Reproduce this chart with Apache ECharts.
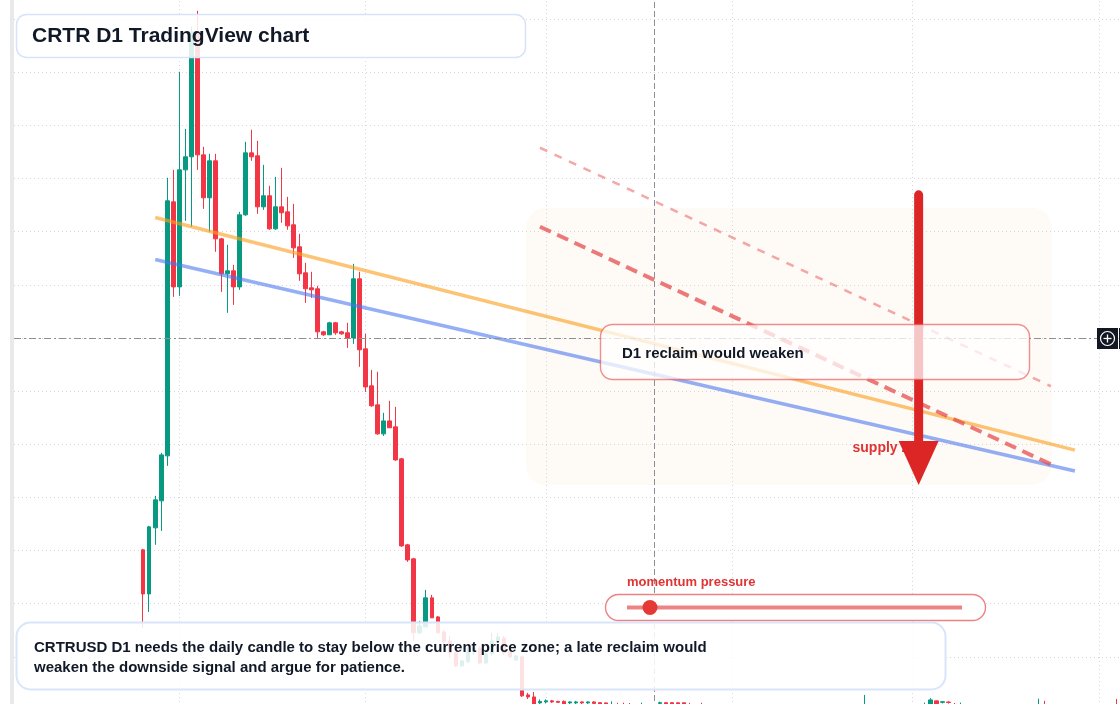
<!DOCTYPE html>
<html><head><meta charset="utf-8">
<script src="https://cdn.jsdelivr.net/npm/echarts@6/dist/echarts.min.js"></script>
<style>html,body{margin:0;padding:0;background:#fff;overflow:hidden;width:1120px;height:704px;}
#wrap{position:relative;width:1120px;height:704px;overflow:hidden;}
#c{position:absolute;left:0;top:-34px;width:1120px;height:744px;}</style>
</head><body><div id="wrap"><div id="c"></div></div>
<script>
// ---------- DATA ----------
const startYear = 2025, startMonth = 6, startDay = 5;   // 2025-07-05
const dayCount = 184;
const firstCandle = 21;                                  // first traded day index (2025-07-26)

// daily OHLC (USD), from 2025-07-26 onward
const openP = [
 .1507,.1092,.1714,.1968,.2391,.4781,.3981,.5082,.5205,.6381,
 .5223,.4819,.5167,.4433,.4104,.4132,.3981,.4659,.5242,.5214,
 .4734,.4838,.4527,.4734,.4687,.4565,.4358,.4113,.3972,.3963,
 .3558,.3530,.3643,.3558,.3549,.3501,.4057,.3398,.3050,.2871,
 .2598,.2720,.2664,.2363,.1554,.1422,.0726,.0782,.1055,.0876,
 .0735,.0650,.0537,.0415,.0453,.0547,.0584,.0443,.0528,.0650,
 .0678,.0547,.0471,.0500,.0142,.0123,.0067,.0076,.0086,.0081,
 .0081,.0067,.0067,.0076,.0067,.0076,.0069,.0067,.0045,.0050,
 .0044,.0040,.0037,.0041,.0045,.0041,.0062,.0069,.0069,.0068,
 .0068,.0049,.0043,.0046,.0034,.0041,.0037,.0044,.0039,.0035,
 .0031,.0036,.0033,.0029,.0034,.0038,.0032,.0028,.0031,.0027,
 .0030,.0034,.0029,.0026,.0030,.0033,.0028,.0032,.0035,.0031,
 .0036,.0045,.0039,.0035,.0040,.0036,.0033,.0038,.0042,.0046,
 .0043,.0050,.0086,.0072,.0075,.0052,.0046,.0050,.0044,.0041,
 .0046,.0042,.0038,.0043,.0040,.0036,.0041,.0045,.0042,.0047,
 .0052,.0046,.0043,.0039,.0044,.0040,.0037,.0042,.0038,.0035,
 .0040,.0044,.0041];
const closeP = [
 .1092,.1723,.1977,.2400,.4791,.3981,.5082,.5205,.6381,.5223,
 .4819,.5167,.4433,.4104,.4132,.3981,.4659,.5242,.5205,.4734,
 .4838,.4527,.4734,.4678,.4555,.4348,.4104,.3963,.3953,.3558,
 .3530,.3643,.3549,.3539,.3501,.4057,.3389,.3040,.2862,.2598,
 .2720,.2655,.2353,.1544,.1412,.0726,.0791,.1055,.0867,.0726,
 .0641,.0537,.0415,.0462,.0547,.0584,.0443,.0528,.0650,.0688,
 .0537,.0500,.0509,.0133,.0123,.0039,.0081,.0086,.0076,.0072,
 .0039,.0076,.0076,.0067,.0076,.0062,.0052,.0048,.0050,.0044,
 .0040,.0037,.0041,.0045,.0041,.0046,.0069,.0053,.0052,.0050,
 .0049,.0043,.0046,.0034,.0041,.0037,.0044,.0039,.0035,.0031,
 .0036,.0033,.0029,.0034,.0038,.0032,.0028,.0031,.0027,.0030,
 .0034,.0029,.0026,.0030,.0033,.0028,.0032,.0035,.0031,.0036,
 .0045,.0039,.0035,.0040,.0036,.0033,.0038,.0042,.0046,.0043,
 .0050,.0095,.0045,.0078,.0071,.0046,.0050,.0044,.0041,.0046,
 .0042,.0038,.0043,.0040,.0036,.0041,.0045,.0042,.0047,.0052,
 .0046,.0043,.0039,.0044,.0040,.0037,.0042,.0038,.0035,.0040,
 .0044,.0041,.0037];
const lowP = [
 .0773,.0923,.1554,.1685,.2297,.3887,.3897,.4602,.4546,.5082,
 .4715,.4499,.4311,.3934,.3737,.3812,.3953,.4649,.5167,.4668,
 .4706,.4518,.4518,.4584,.4518,.4254,.4038,.3831,.3878,.3501,
 .3520,.3530,.3530,.3530,.3407,.3445,.3229,.2993,.2852,.2589,
 .2579,.2655,.2344,.1535,.1394,.0650,.0716,.0782,.0867,.0716,
 .0613,.0490,.0405,.0405,.0443,.0518,.0434,.0434,.0509,.0631,
 .0518,.0490,.0462,.0123,.0104,.0020,.0057,.0062,.0067,.0067,
 .0029,.0057,.0053,.0048,.0057,.0048,.0043,.0039,.0036,.0035,
 .0032,.0030,.0031,.0034,.0035,.0036,.0050,.0046,.0045,.0043,
 .0042,.0036,.0037,.0029,.0027,.0031,.0032,.0033,.0028,.0026,
 .0027,.0028,.0024,.0025,.0030,.0027,.0023,.0024,.0022,.0023,
 .0026,.0025,.0021,.0022,.0025,.0024,.0023,.0027,.0026,.0027,
 .0030,.0033,.0029,.0030,.0031,.0027,.0028,.0032,.0036,.0037,
 .0038,.0044,.0040,.0062,.0060,.0040,.0041,.0038,.0035,.0036,
 .0037,.0033,.0034,.0035,.0031,.0032,.0036,.0037,.0038,.0041,
 .0040,.0037,.0034,.0035,.0035,.0032,.0033,.0034,.0030,.0031,
 .0035,.0036,.0032];
const highP = [
 .1516,.1732,.2015,.2419,.5007,.5082,.6005,.5468,.6428,.6579,
 .5299,.5233,.5233,.4442,.4377,.4188,.4687,.5346,.5459,.5355,
 .5129,.4932,.5016,.5101,.4828,.4762,.4480,.4207,.4123,.3991,
 .3567,.3652,.3652,.3567,.3643,.4198,.4123,.3539,.3200,.3182,
 .2796,.2909,.2852,.2372,.1563,.1431,.0838,.1130,.1083,.0885,
 .0754,.0697,.0547,.0471,.0594,.0613,.0603,.0566,.0726,.0726,
 .0697,.0566,.0518,.0509,.0161,.0170,.0100,.0100,.0095,.0086,
 .0090,.0081,.0086,.0081,.0081,.0081,.0072,.0069,.0081,.0067,
 .0069,.0066,.0052,.0069,.0053,.0055,.0079,.0071,.0070,.0070,
 .0069,.0067,.0052,.0068,.0049,.0046,.0051,.0050,.0045,.0042,
 .0043,.0041,.0038,.0040,.0047,.0044,.0037,.0039,.0036,.0038,
 .0042,.0040,.0035,.0037,.0041,.0039,.0040,.0044,.0043,.0046,
 .0142,.0052,.0047,.0049,.0048,.0044,.0046,.0053,.0055,.0054,
 .0069,.0111,.0088,.0083,.0080,.0066,.0069,.0055,.0050,.0053,
 .0052,.0047,.0050,.0049,.0046,.0048,.0053,.0051,.0055,.0107,
 .0086,.0053,.0048,.0051,.0050,.0046,.0049,.0048,.0044,.0047,
 .0052,.0050,.0104];

// price axis
const priceMin = 0, priceMax = 0.7, priceStep = 0.05;
// month grid lines and crosshair
const monthStarts = ['2025-08-01','2025-09-01','2025-10-01','2025-11-01','2025-12-01','2026-01-01'];
const crossDate = '2025-10-19', crossPrice = 0.35;
// drawn trendlines: [start, end] day index and price
const trendIdx = [23, 176];
const trendOrange = [0.4634, 0.2445];
const trendBlue = [0.4239, 0.2248];
const dashIdx = [87, 172];
const dashUpper = [0.5290, 0.3046];
const dashLower = [0.4547, 0.2312];
// supply zone, arrow, label anchors (day index, price)
const zoneIdx = [85, 172], zonePrices = [0.4725, 0.2118];
const arrowIdx = 150, arrowPrices = [0.4847, 0.2118];
const supplyIdx = 139, supplyPrice = 0.2466;

// texts
const titleText = 'CRTR D1 TradingView chart';
const noteLines = ['CRTRUSD D1 needs the daily candle to stay below the current price zone; a late reclaim would',
                   'weaken the downside signal and argue for patience.'];
const reclaimText = 'D1 reclaim would weaken';
const supplyText = 'supply zone';
const momentumText = 'momentum pressure';

// ---------- BUILD ----------
const dates = [];
for (let k = 0; k < dayCount; k++) {
  const d = new Date(Date.UTC(startYear, startMonth, startDay + k));
  dates.push(d.toISOString().slice(0, 10));
}
const candleData = dates.map((d, i) => {
  const j = i - firstCandle;
  return j < 0 ? '-' : [openP[j], closeP[j], lowP[j], highP[j]];
});
const seg = (idx, vals) => [[idx[0], vals[0]], [idx[1], vals[1]]];

const FONT = '"Liberation Sans", Arial, Helvetica, sans-serif';
const OFF = 34; // canvas extends 34px above the visible page
const chart = echarts.init(document.getElementById('c'), null, {renderer: 'canvas'});
const gridColor = '#d3d6db';

chart.setOption({
  animation: false,
  backgroundColor: '#ffffff',
  grid: {left: 14, right: 0, top: 0, bottom: 0},
  xAxis: {type: 'category', data: dates, boundaryGap: true,
    axisLine: {show: false}, axisTick: {show: false}, axisLabel: {show: false}, splitLine: {show: false}},
  yAxis: {type: 'value', position: 'right', min: priceMin, max: priceMax, interval: priceStep, scale: false,
    axisLine: {show: false}, axisTick: {show: false}, axisLabel: {show: false},
    splitLine: {show: true, lineStyle: {color: gridColor, width: 1, type: [1, 3]}}},
  series: [
    {type: 'line', data: [], z: 1, silent: true,
     markLine: {z: 1, silent: true, symbol: ['none', 'none'], label: {show: false}, animation: false,
       lineStyle: {color: gridColor, width: 1, type: [1, 3]},
       data: monthStarts.map(m => ({xAxis: m}))}},
    {type: 'candlestick', data: candleData, z: 2, barWidth: 4, silent: true,
     itemStyle: {color: '#089981', color0: '#f23645', borderColor: '#089981', borderColor0: '#f23645', borderWidth: 1}},
    {type: 'line', data: seg(trendIdx, trendOrange), z: 3, silent: true, showSymbol: false, symbol: 'none',
     lineStyle: {color: 'rgba(250,160,30,0.62)', width: 3.5}},
    {type: 'line', data: seg(trendIdx, trendBlue), z: 3, silent: true, showSymbol: false, symbol: 'none',
     lineStyle: {color: 'rgba(70,118,240,0.58)', width: 3.5}},
    {type: 'line', data: seg(dashIdx, dashUpper), z: 3, silent: true, showSymbol: false, symbol: 'none',
     lineStyle: {color: 'rgba(236,110,110,0.6)', width: 2.5, type: [8, 8]}},
    {type: 'line', data: seg(dashIdx, dashLower), z: 3, silent: true, showSymbol: false, symbol: 'none',
     lineStyle: {color: 'rgba(228,70,70,0.72)', width: 4, type: [12, 7]}},
    {type: 'line', data: [], z: 4, silent: true,
     markLine: {z: 6, silent: true, symbol: ['none', 'none'], label: {show: false}, animation: false,
       data: [
         {xAxis: crossDate, lineStyle: {color: '#8c8f96', width: 1, type: [6, 3]}},
         {yAxis: crossPrice, lineStyle: {color: '#8c8f96', width: 1, type: [7, 3, 2, 3]}}
       ]}}
  ]
});

const px = (i, p) => chart.convertToPixel({xAxisIndex: 0, yAxisIndex: 0}, [i, p]);
const z0 = px(zoneIdx[0], zonePrices[0]), z1 = px(zoneIdx[1], zonePrices[1]);
const a0 = px(arrowIdx, arrowPrices[0]), a1 = px(arrowIdx, arrowPrices[1]);
const sp = px(supplyIdx, supplyPrice);
const headLen = 44, headHalf = 20;
const Y = v => v + OFF; // page y -> canvas y

chart.setOption({graphic: [
  {type: 'rect', silent: true, z: 80, shape: {x: 10, y: 0, width: 4, height: 760}, style: {fill: '#e8e9eb'}},
  {type: 'rect', silent: true, z: 0, shape: {x: z0[0] - 2, y: z0[1], width: z1[0] - z0[0] + 3, height: z1[1] - z0[1], r: 20},
   style: {fill: 'rgba(250,215,185,0.12)'}},
  {type: 'text', silent: true, z: 49, x: sp[0], y: sp[1],
   style: {text: supplyText, font: 'bold 14px ' + FONT, fill: '#e03434', align: 'left', verticalAlign: 'middle'}},
  {type: 'line', silent: true, z: 50, shape: {x1: a0[0], y1: a0[1], x2: a0[0], y2: a1[1] - headLen + 4},
   style: {stroke: '#dc2626', lineWidth: 9, lineCap: 'round'}},
  {type: 'polygon', silent: true, z: 50,
   shape: {points: [[a1[0] - headHalf, a1[1] - headLen], [a1[0] + headHalf, a1[1] - headLen], [a1[0], a1[1]]]},
   style: {fill: '#dc2626'}},
  {type: 'rect', silent: true, z: 60, shape: {x: 600.5, y: Y(324.5), width: 429, height: 55, r: 12},
   style: {fill: 'rgba(255,255,255,0.74)', stroke: 'rgba(232,72,72,0.62)', lineWidth: 1.4}},
  {type: 'text', silent: true, z: 61, x: 622, y: Y(354),
   style: {text: reclaimText, font: 'bold 15px ' + FONT, fill: '#111827', align: 'left', verticalAlign: 'middle'}},
  {type: 'text', silent: true, z: 61, x: 627, y: Y(582.5),
   style: {text: momentumText, font: 'bold 13px ' + FONT, fill: '#e03434', align: 'left', verticalAlign: 'middle'}},
  {type: 'rect', silent: true, z: 60, shape: {x: 605.5, y: Y(594.5), width: 380, height: 26, r: 13},
   style: {fill: '#ffffff', stroke: '#ee8282', lineWidth: 1.4}},
  {type: 'line', silent: true, z: 61, shape: {x1: 627, y1: Y(607.5), x2: 962, y2: Y(607.5)},
   style: {stroke: 'rgba(230,85,85,0.72)', lineWidth: 4}},
  {type: 'circle', silent: true, z: 62, shape: {cx: 650, cy: Y(607.5), r: 7.5}, style: {fill: '#e53935'}},
  {type: 'rect', silent: true, z: 70, shape: {x: 16.5, y: Y(14.5), width: 509, height: 43, r: 10},
   style: {fill: 'rgba(255,255,255,0.86)', stroke: '#d6e3fa', lineWidth: 1.5}},
  {type: 'text', silent: true, z: 71, x: 32, y: Y(36.5),
   style: {text: titleText, font: 'bold 21px ' + FONT, fill: '#111827', align: 'left', verticalAlign: 'middle'}},
  {type: 'rect', silent: true, z: 70, shape: {x: 16.5, y: Y(622.5), width: 929, height: 67, r: 14},
   style: {fill: 'rgba(255,255,255,0.86)', stroke: '#d9e5fa', lineWidth: 2}},
  {type: 'text', silent: true, z: 71, x: 34, y: Y(648),
   style: {text: noteLines[0], font: 'bold 15px ' + FONT, fill: '#111827', align: 'left', verticalAlign: 'middle'}},
  {type: 'text', silent: true, z: 71, x: 34, y: Y(668),
   style: {text: noteLines[1], font: 'bold 15px ' + FONT, fill: '#111827', align: 'left', verticalAlign: 'middle'}},
  {type: 'rect', silent: true, z: 80, shape: {x: 1097, y: Y(328), width: 21, height: 21}, style: {fill: '#131722'}},
  {type: 'rect', silent: true, z: 80, shape: {x: 1119, y: Y(328), width: 1, height: 21}, style: {fill: '#131722'}},
  {type: 'circle', silent: true, z: 81, shape: {cx: 1107.5, cy: Y(338.5), r: 7}, style: {fill: 'none', stroke: '#ffffff', lineWidth: 1.2}},
  {type: 'line', silent: true, z: 81, shape: {x1: 1103.5, y1: Y(338.5), x2: 1111.5, y2: Y(338.5)}, style: {stroke: '#ffffff', lineWidth: 1.3}},
  {type: 'line', silent: true, z: 81, shape: {x1: 1107.5, y1: Y(334.5), x2: 1107.5, y2: Y(342.5)}, style: {stroke: '#ffffff', lineWidth: 1.3}}
]});
</script>
</body></html>
